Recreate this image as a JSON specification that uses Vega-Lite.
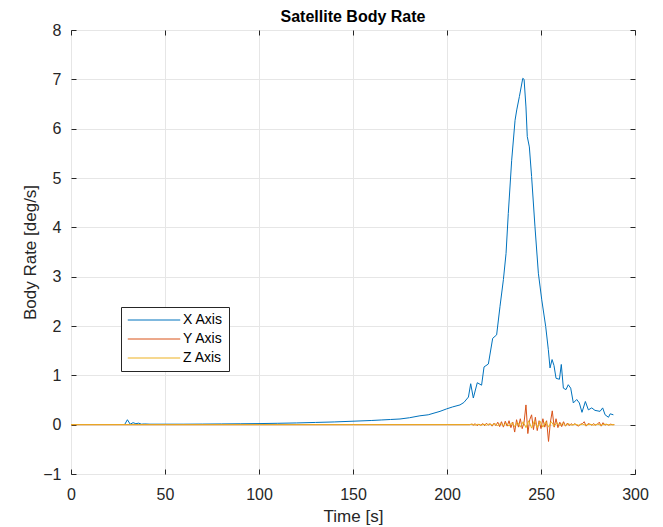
{
  "$schema": "https://vega.github.io/schema/vega-lite/v6.json",
  "width": 564,
  "height": 444,
  "autosize": {"type": "none"},
  "padding": {"left": 71, "top": 30, "right": 28, "bottom": 53},
  "background": "white",
  "config": {
    "font": "Liberation Sans",
    "view": {"stroke": "#262626", "strokeWidth": 1},
    "axis": {
      "gridColor": "#e6e6e6",
      "gridWidth": 1,
      "domain": false,
      "tickColor": "#262626",
      "tickSize": -5,
      "labelFlush": false,
      "labelColor": "#262626",
      "labelFontSize": 16,
      "titleColor": "#262626",
      "titleFontSize": 17,
      "titleFontWeight": "normal",
      "labelFont": "Liberation Sans",
      "titleFont": "Liberation Sans"
    }
  },
  "title": {
    "text": "Satellite Body Rate",
    "fontSize": 16,
    "fontWeight": "bold",
    "color": "#000000",
    "font": "Liberation Sans",
    "offset": -3
  },
  "data": {
    "values": [
      {"t": 28.5, "v": 0, "s": "X Axis"},
      {"t": 30, "v": 0.1, "s": "X Axis"},
      {"t": 31.5, "v": 0.01, "s": "X Axis"},
      {"t": 33, "v": 0.04, "s": "X Axis"},
      {"t": 34.5, "v": 0.02, "s": "X Axis"},
      {"t": 36, "v": 0.03, "s": "X Axis"},
      {"t": 37.5, "v": 0.01, "s": "X Axis"},
      {"t": 39, "v": 0.015, "s": "X Axis"},
      {"t": 42, "v": 0.01, "s": "X Axis"},
      {"t": 50, "v": 0.01, "s": "X Axis"},
      {"t": 60, "v": 0.01, "s": "X Axis"},
      {"t": 70, "v": 0.012, "s": "X Axis"},
      {"t": 80, "v": 0.015, "s": "X Axis"},
      {"t": 90, "v": 0.018, "s": "X Axis"},
      {"t": 100, "v": 0.022, "s": "X Axis"},
      {"t": 110, "v": 0.028, "s": "X Axis"},
      {"t": 120, "v": 0.035, "s": "X Axis"},
      {"t": 130, "v": 0.045, "s": "X Axis"},
      {"t": 140, "v": 0.055, "s": "X Axis"},
      {"t": 150, "v": 0.07, "s": "X Axis"},
      {"t": 160, "v": 0.085, "s": "X Axis"},
      {"t": 165, "v": 0.095, "s": "X Axis"},
      {"t": 170, "v": 0.105, "s": "X Axis"},
      {"t": 175, "v": 0.115, "s": "X Axis"},
      {"t": 180, "v": 0.14, "s": "X Axis"},
      {"t": 185.6, "v": 0.18, "s": "X Axis"},
      {"t": 190, "v": 0.2, "s": "X Axis"},
      {"t": 196.3, "v": 0.27, "s": "X Axis"},
      {"t": 199.8, "v": 0.32, "s": "X Axis"},
      {"t": 203, "v": 0.36, "s": "X Axis"},
      {"t": 206.9, "v": 0.4, "s": "X Axis"},
      {"t": 209, "v": 0.45, "s": "X Axis"},
      {"t": 211.4, "v": 0.56, "s": "X Axis"},
      {"t": 212.6, "v": 0.83, "s": "X Axis"},
      {"t": 214, "v": 0.54, "s": "X Axis"},
      {"t": 216.1, "v": 0.85, "s": "X Axis"},
      {"t": 218.4, "v": 0.8, "s": "X Axis"},
      {"t": 219.7, "v": 1.17, "s": "X Axis"},
      {"t": 222, "v": 1.23, "s": "X Axis"},
      {"t": 224.3, "v": 1.75, "s": "X Axis"},
      {"t": 226.4, "v": 1.82, "s": "X Axis"},
      {"t": 228.2, "v": 2.4, "s": "X Axis"},
      {"t": 230, "v": 2.94, "s": "X Axis"},
      {"t": 231.4, "v": 3.47, "s": "X Axis"},
      {"t": 232.6, "v": 4.28, "s": "X Axis"},
      {"t": 234.4, "v": 5.36, "s": "X Axis"},
      {"t": 236.2, "v": 6.17, "s": "X Axis"},
      {"t": 237.1, "v": 6.38, "s": "X Axis"},
      {"t": 238.5, "v": 6.65, "s": "X Axis"},
      {"t": 240.3, "v": 7.02, "s": "X Axis"},
      {"t": 241, "v": 7.0, "s": "X Axis"},
      {"t": 242, "v": 6.44, "s": "X Axis"},
      {"t": 242.7, "v": 5.84, "s": "X Axis"},
      {"t": 243.8, "v": 5.63, "s": "X Axis"},
      {"t": 245, "v": 5.03, "s": "X Axis"},
      {"t": 246.8, "v": 4.01, "s": "X Axis"},
      {"t": 248.6, "v": 3.07, "s": "X Axis"},
      {"t": 250.4, "v": 2.53, "s": "X Axis"},
      {"t": 252.5, "v": 1.99, "s": "X Axis"},
      {"t": 253.9, "v": 1.52, "s": "X Axis"},
      {"t": 254.8, "v": 1.15, "s": "X Axis"},
      {"t": 255.9, "v": 1.32, "s": "X Axis"},
      {"t": 256.9, "v": 1.2, "s": "X Axis"},
      {"t": 258, "v": 0.94, "s": "X Axis"},
      {"t": 259.8, "v": 0.92, "s": "X Axis"},
      {"t": 260.8, "v": 1.22, "s": "X Axis"},
      {"t": 261.9, "v": 0.74, "s": "X Axis"},
      {"t": 263.3, "v": 0.71, "s": "X Axis"},
      {"t": 264.5, "v": 0.81, "s": "X Axis"},
      {"t": 265.8, "v": 0.74, "s": "X Axis"},
      {"t": 267.2, "v": 0.44, "s": "X Axis"},
      {"t": 269, "v": 0.51, "s": "X Axis"},
      {"t": 270.4, "v": 0.44, "s": "X Axis"},
      {"t": 271.8, "v": 0.25, "s": "X Axis"},
      {"t": 273.6, "v": 0.47, "s": "X Axis"},
      {"t": 275.2, "v": 0.3, "s": "X Axis"},
      {"t": 277, "v": 0.34, "s": "X Axis"},
      {"t": 278.7, "v": 0.29, "s": "X Axis"},
      {"t": 281.4, "v": 0.27, "s": "X Axis"},
      {"t": 282.8, "v": 0.34, "s": "X Axis"},
      {"t": 284.1, "v": 0.2, "s": "X Axis"},
      {"t": 285.9, "v": 0.15, "s": "X Axis"},
      {"t": 286.8, "v": 0.22, "s": "X Axis"},
      {"t": 288.5, "v": 0.2, "s": "X Axis"},

      {"t": 0, "v": 0, "s": "Y Axis"},
      {"t": 212, "v": 0, "s": "Y Axis"},
      {"t": 213, "v": 0.01, "s": "Y Axis"},
      {"t": 214, "v": -0.01, "s": "Y Axis"},
      {"t": 215, "v": 0.02, "s": "Y Axis"},
      {"t": 216, "v": -0.02, "s": "Y Axis"},
      {"t": 217, "v": 0.01, "s": "Y Axis"},
      {"t": 218, "v": -0.01, "s": "Y Axis"},
      {"t": 219, "v": 0.02, "s": "Y Axis"},
      {"t": 220, "v": -0.02, "s": "Y Axis"},
      {"t": 221, "v": 0.03, "s": "Y Axis"},
      {"t": 222, "v": -0.01, "s": "Y Axis"},
      {"t": 223, "v": 0.02, "s": "Y Axis"},
      {"t": 224, "v": -0.03, "s": "Y Axis"},
      {"t": 225, "v": 0.03, "s": "Y Axis"},
      {"t": 226, "v": -0.02, "s": "Y Axis"},
      {"t": 227, "v": 0.05, "s": "Y Axis"},
      {"t": 228, "v": -0.04, "s": "Y Axis"},
      {"t": 229, "v": 0.06, "s": "Y Axis"},
      {"t": 230, "v": -0.05, "s": "Y Axis"},
      {"t": 231, "v": 0.07, "s": "Y Axis"},
      {"t": 232, "v": -0.03, "s": "Y Axis"},
      {"t": 233, "v": 0.08, "s": "Y Axis"},
      {"t": 234, "v": -0.06, "s": "Y Axis"},
      {"t": 235, "v": 0.05, "s": "Y Axis"},
      {"t": 236, "v": -0.15, "s": "Y Axis"},
      {"t": 237, "v": 0.1, "s": "Y Axis"},
      {"t": 238, "v": -0.05, "s": "Y Axis"},
      {"t": 239, "v": 0.12, "s": "Y Axis"},
      {"t": 240, "v": -0.08, "s": "Y Axis"},
      {"t": 241, "v": 0.05, "s": "Y Axis"},
      {"t": 242, "v": 0.4, "s": "Y Axis"},
      {"t": 243, "v": -0.18, "s": "Y Axis"},
      {"t": 244, "v": 0.1, "s": "Y Axis"},
      {"t": 245, "v": 0.2, "s": "Y Axis"},
      {"t": 246, "v": -0.1, "s": "Y Axis"},
      {"t": 247, "v": 0.15, "s": "Y Axis"},
      {"t": 248, "v": -0.12, "s": "Y Axis"},
      {"t": 249, "v": 0.08, "s": "Y Axis"},
      {"t": 250, "v": -0.08, "s": "Y Axis"},
      {"t": 251, "v": 0.12, "s": "Y Axis"},
      {"t": 252, "v": -0.05, "s": "Y Axis"},
      {"t": 253, "v": 0.08, "s": "Y Axis"},
      {"t": 254, "v": -0.34, "s": "Y Axis"},
      {"t": 255, "v": 0.05, "s": "Y Axis"},
      {"t": 256, "v": 0.28, "s": "Y Axis"},
      {"t": 257, "v": -0.05, "s": "Y Axis"},
      {"t": 258, "v": 0.12, "s": "Y Axis"},
      {"t": 259, "v": -0.06, "s": "Y Axis"},
      {"t": 260, "v": 0.05, "s": "Y Axis"},
      {"t": 261, "v": -0.04, "s": "Y Axis"},
      {"t": 262, "v": 0.06, "s": "Y Axis"},
      {"t": 263, "v": -0.03, "s": "Y Axis"},
      {"t": 264, "v": 0.03, "s": "Y Axis"},
      {"t": 265, "v": -0.02, "s": "Y Axis"},
      {"t": 266, "v": 0.02, "s": "Y Axis"},
      {"t": 267, "v": -0.01, "s": "Y Axis"},
      {"t": 268, "v": 0.02, "s": "Y Axis"},
      {"t": 269, "v": -0.01, "s": "Y Axis"},
      {"t": 270, "v": -0.03, "s": "Y Axis"},
      {"t": 271, "v": 0.01, "s": "Y Axis"},
      {"t": 272, "v": 0.02, "s": "Y Axis"},
      {"t": 273, "v": 0.06, "s": "Y Axis"},
      {"t": 274, "v": -0.03, "s": "Y Axis"},
      {"t": 275, "v": 0.02, "s": "Y Axis"},
      {"t": 276, "v": 0.01, "s": "Y Axis"},
      {"t": 277, "v": -0.01, "s": "Y Axis"},
      {"t": 278, "v": 0.02, "s": "Y Axis"},
      {"t": 279, "v": -0.01, "s": "Y Axis"},
      {"t": 280, "v": 0.01, "s": "Y Axis"},
      {"t": 281, "v": 0.05, "s": "Y Axis"},
      {"t": 282, "v": -0.03, "s": "Y Axis"},
      {"t": 283, "v": 0.04, "s": "Y Axis"},
      {"t": 284, "v": -0.01, "s": "Y Axis"},
      {"t": 285, "v": 0.01, "s": "Y Axis"},
      {"t": 286, "v": -0.01, "s": "Y Axis"},
      {"t": 287, "v": 0.01, "s": "Y Axis"},
      {"t": 288, "v": 0, "s": "Y Axis"},
      {"t": 289, "v": 0, "s": "Y Axis"},

      {"t": 0, "v": 0, "s": "Z Axis"},
      {"t": 212, "v": 0, "s": "Z Axis"},
      {"t": 213.5, "v": 0.01, "s": "Z Axis"},
      {"t": 215, "v": -0.01, "s": "Z Axis"},
      {"t": 216.5, "v": 0.01, "s": "Z Axis"},
      {"t": 218, "v": -0.015, "s": "Z Axis"},
      {"t": 219.5, "v": 0.01, "s": "Z Axis"},
      {"t": 221, "v": -0.01, "s": "Z Axis"},
      {"t": 222.5, "v": 0.015, "s": "Z Axis"},
      {"t": 224, "v": -0.01, "s": "Z Axis"},
      {"t": 225.5, "v": 0.02, "s": "Z Axis"},
      {"t": 227, "v": -0.02, "s": "Z Axis"},
      {"t": 228.5, "v": 0.03, "s": "Z Axis"},
      {"t": 230, "v": -0.02, "s": "Z Axis"},
      {"t": 231.5, "v": 0.03, "s": "Z Axis"},
      {"t": 233, "v": -0.03, "s": "Z Axis"},
      {"t": 234.5, "v": 0.04, "s": "Z Axis"},
      {"t": 236, "v": -0.04, "s": "Z Axis"},
      {"t": 237.5, "v": 0.05, "s": "Z Axis"},
      {"t": 239, "v": -0.05, "s": "Z Axis"},
      {"t": 240.5, "v": 0.06, "s": "Z Axis"},
      {"t": 242, "v": -0.06, "s": "Z Axis"},
      {"t": 243.5, "v": 0.08, "s": "Z Axis"},
      {"t": 245, "v": -0.07, "s": "Z Axis"},
      {"t": 246.5, "v": 0.08, "s": "Z Axis"},
      {"t": 248, "v": -0.06, "s": "Z Axis"},
      {"t": 249.5, "v": 0.07, "s": "Z Axis"},
      {"t": 251, "v": -0.05, "s": "Z Axis"},
      {"t": 252.5, "v": 0.06, "s": "Z Axis"},
      {"t": 254, "v": -0.05, "s": "Z Axis"},
      {"t": 255.5, "v": 0.06, "s": "Z Axis"},
      {"t": 257, "v": -0.03, "s": "Z Axis"},
      {"t": 258.5, "v": 0.04, "s": "Z Axis"},
      {"t": 260, "v": -0.02, "s": "Z Axis"},
      {"t": 261.5, "v": 0.03, "s": "Z Axis"},
      {"t": 263, "v": -0.02, "s": "Z Axis"},
      {"t": 264.5, "v": 0.02, "s": "Z Axis"},
      {"t": 266, "v": -0.01, "s": "Z Axis"},
      {"t": 268, "v": 0.01, "s": "Z Axis"},
      {"t": 270, "v": -0.01, "s": "Z Axis"},
      {"t": 272, "v": 0.01, "s": "Z Axis"},
      {"t": 274, "v": -0.01, "s": "Z Axis"},
      {"t": 276, "v": 0.01, "s": "Z Axis"},
      {"t": 278, "v": -0.01, "s": "Z Axis"},
      {"t": 280, "v": 0.01, "s": "Z Axis"},
      {"t": 282, "v": -0.01, "s": "Z Axis"},
      {"t": 284, "v": 0.01, "s": "Z Axis"},
      {"t": 286, "v": -0.005, "s": "Z Axis"},
      {"t": 289, "v": 0, "s": "Z Axis"}
    ]
  },
  "layer": [
    {
      "mark": {"type": "line", "strokeWidth": 1, "clip": true},
      "encoding": {
        "x": {
          "field": "t", "type": "quantitative",
          "scale": {"domain": [0, 300], "nice": false},
          "axis": {"title": "Time [s]", "values": [0, 50, 100, 150, 200, 250, 300], "labelPadding": 17, "titlePadding": 6}
        },
        "y": {
          "field": "v", "type": "quantitative",
          "scale": {"domain": [-1, 8], "nice": false, "zero": false},
          "axis": {"title": "Body Rate [deg/s]", "values": [-1, 0, 1, 2, 3, 4, 5, 6, 7, 8], "labelPadding": 15, "titlePadding": 3}
        },
        "color": {
          "field": "s", "type": "nominal",
          "scale": {"domain": ["X Axis", "Y Axis", "Z Axis"], "range": ["#0072BD", "#D95319", "#EDB120"]},
          "legend": {
            "title": null,
            "orient": "none",
            "legendX": 50,
            "legendY": 277,
            "symbolType": "stroke",
            "symbolSize": 2750,
            "symbolStrokeWidth": 1,
            "clipHeight": 14,
            "labelFontSize": 14,
            "labelColor": "#000000",
            "labelFont": "Liberation Sans",
            "fillColor": "white",
            "strokeColor": "#262626",
            "padding": 6,
            "rowPadding": 5,
            "labelOffset": 2
          }
        },
        "order": {"field": "t", "type": "quantitative"}
      }
    },
    {
      "mark": {"type": "rule", "opacity": 0},
      "encoding": {
        "x": {
          "field": "t", "type": "quantitative",
          "axis": {"orient": "top", "title": null, "labels": false, "grid": false, "values": [0, 50, 100, 150, 200, 250, 300]}
        },
        "y": {
          "field": "v", "type": "quantitative",
          "axis": {"orient": "right", "title": null, "labels": false, "grid": false, "values": [-1, 0, 1, 2, 3, 4, 5, 6, 7, 8]}
        }
      }
    }
  ],
  "resolve": {"axis": {"x": "independent", "y": "independent"}}
}
